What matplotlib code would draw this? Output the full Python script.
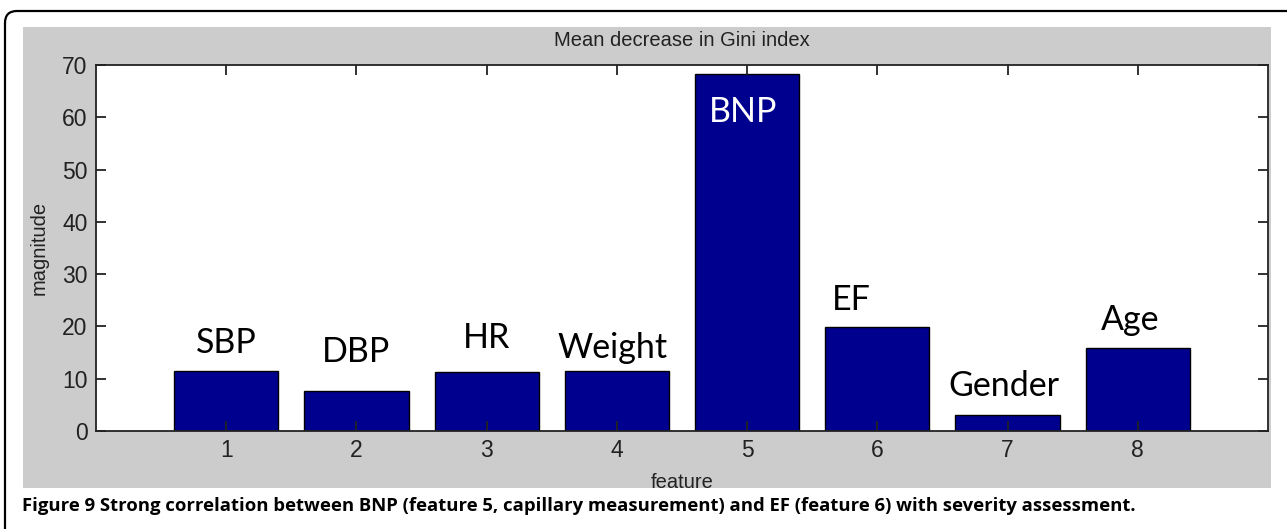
import matplotlib
matplotlib.use("Agg")
import matplotlib.pyplot as plt
from matplotlib.patches import Rectangle, FancyBboxPatch

# data
features = [1, 2, 3, 4, 5, 6, 7, 8]
magnitude = [11.5, 7.7, 11.2, 11.4, 68.3, 19.8, 3.1, 15.8]
names = ["SBP", "DBP", "HR", "Weight", "BNP", "EF", "Gender", "Age"]
label_x = [1.0, 2.0, 3.0, 3.97, 4.97, 5.8, 6.97, 7.94]
label_y = [16.8, 15.1, 17.8, 15.9, 61.0, 25.0, 8.6, 21.2]

fig = plt.figure(figsize=(12.87, 5.29), dpi=100)

# outer rounded frame (partly cut off on the right and bottom)
frame = FancyBboxPatch((0.05, -0.6), 13.3, 0.6 + (529 - 11) / 100,
                       boxstyle="round,pad=0,rounding_size=0.12",
                       transform=fig.dpi_scale_trans, fill=False,
                       edgecolor="black", linewidth=1.6, zorder=-2)
fig.patches.append(frame)

# grey matlab figure background
grey = Rectangle((23 / 1287, 1 - 488 / 529), 1248 / 1287, 461 / 529,
                 transform=fig.transFigure, facecolor="#cccccc",
                 edgecolor="none", zorder=-1)
fig.patches.append(grey)

ax = fig.add_axes([96 / 1287, 1 - 431 / 529, 1172 / 1287, 366 / 529])
ax.set_facecolor("white")
ax.bar(features, magnitude, width=0.8, color="#00008f", edgecolor="black",
       linewidth=1.0)

for x, y, s in zip(label_x, label_y, names):
    c = "white" if s == "BNP" else "black"
    ax.text(x, y, s, ha="center", va="center", fontsize=24.5,
            family="Lato", color=c)

ax.set_xlim(0, 9)
ax.set_ylim(0, 70)
ax.set_xticks(features)
ax.set_yticks(range(0, 71, 10))
ax.tick_params(direction="in", length=7, width=1.3, top=True, right=True,
               labelsize=16.5, colors="#222222", pad=6)
for lab in ax.get_xticklabels() + ax.get_yticklabels():
    lab.set_family("Liberation Sans")
for sp in ax.spines.values():
    sp.set_linewidth(1.3)
    sp.set_color("#222222")

ax.set_title("Mean decrease in Gini index", fontsize=14.5,
             family="Liberation Sans", color="#222222", pad=14)
ax.set_xlabel("feature", fontsize=14.5, family="Liberation Sans",
              color="#222222", labelpad=8)
ax.set_ylabel("magnitude", fontsize=14.5, family="Liberation Sans",
              color="#222222", labelpad=10)

fig.text(22 / 1287, 1 - 506 / 529,
         "Figure 9 Strong correlation between BNP (feature 5, capillary measurement) and EF (feature 6) with severity assessment.",
         fontsize=13.3, family="Open Sans", fontweight="bold", va="center",
         ha="left")

fig.savefig("out.png", dpi=100)
